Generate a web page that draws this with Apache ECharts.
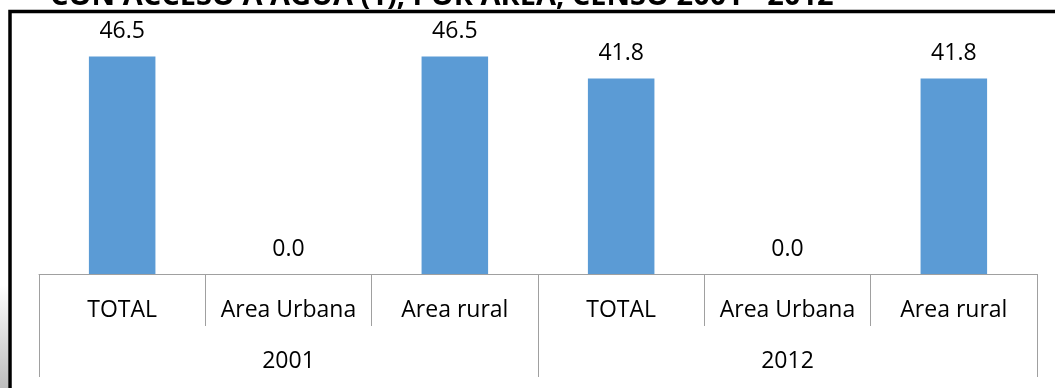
<!DOCTYPE html>
<html>
<head>
<meta charset="utf-8">
<script src="https://cdn.jsdelivr.net/npm/echarts@6/dist/echarts.min.js"></script>
<style>
html,body{margin:0;padding:0;background:#fff;}
#chart{width:1055px;height:388px;}
</style>
</head>
<body>
<div id="chart"></div>
<script>
var titleText = 'CON ACCESO A AGUA (1), POR AREA, CENSO 2001 - 2012';
var categories = ['TOTAL', 'Area Urbana', 'Area rural', 'TOTAL', 'Area Urbana', 'Area rural'];
var years = ['2001', '2012'];
var values = [46.5, 0.0, 46.5, 41.8, 0.0, 41.8];

var chart = echarts.init(document.getElementById('chart'), null, {renderer: 'canvas'});
var FONT = '"Open Sans", sans-serif';
chart.setOption({
  animation: false,
  backgroundColor: '#ffffff',
  grid: {left: 39, right: 18, top: 40, bottom: 114, containLabel: false},
  xAxis: [
    {
      type: 'category',
      data: categories,
      position: 'bottom',
      axisLine: {show: true, lineStyle: {color: '#a0a0a0', width: 1}},
      axisTick: {show: true, interval: 0, length: 52, lineStyle: {color: '#a0a0a0', width: 1}},
      axisLabel: {interval: 0, margin: 25, color: '#000', fontFamily: FONT, fontSize: 23}
    },
    {
      type: 'category',
      data: years,
      position: 'bottom',
      offset: 0,
      axisLine: {show: false},
      axisTick: {show: true, interval: 0, length: 103, lineStyle: {color: '#a0a0a0', width: 1}},
      axisLabel: {interval: 0, margin: 76, color: '#000', fontFamily: FONT, fontSize: 23}
    }
  ],
  yAxis: {
    type: 'value', min: 0, max: 50, show: false,
    splitLine: {show: false}
  },
  series: [{
    type: 'bar',
    xAxisIndex: 0,
    data: values,
    barWidth: '40%',
    itemStyle: {color: '#5b9bd5'},
    label: {
      show: true, position: 'top', distance: 13,
      color: '#000', fontFamily: FONT, fontSize: 23,
      formatter: function (p) { return p.value.toFixed(1); }
    }
  }],
  graphic: [
    {
      type: 'rect', silent: true, z: 100,
      shape: {x: 0, y: 285, width: 8, height: 103},
      style: {fill: new echarts.graphic.LinearGradient(0, 0, 0, 1, [
        {offset: 0, color: '#ffffff'}, {offset: 1, color: '#bdbdbd'}
      ])}
    },
    {
      type: 'rect', silent: true, z: 100,
      shape: {x: 10, y: 11.5, width: 1200, height: 500},
      style: {fill: 'none', stroke: '#000', lineWidth: 3.5}
    },
    {
      type: 'text', silent: true, z: 100,
      x: 50, y: -3.5,
      style: {
        text: titleText,
        font: 'bold 29px "Open Sans", sans-serif',
        fill: '#000',
        align: 'left',
        verticalAlign: 'middle'
      }
    }
  ]
});
</script>
</body>
</html>
